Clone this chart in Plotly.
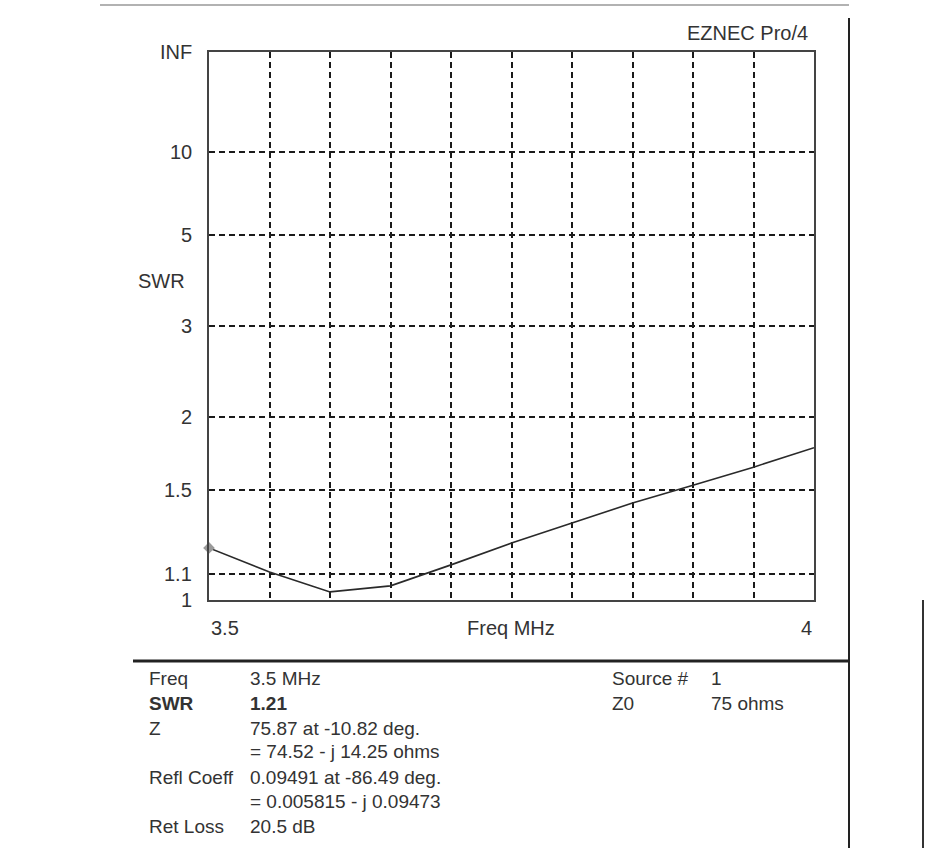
import plotly.graph_objects as go

# ---- data ----
freq_mhz = [3.50, 3.55, 3.60, 3.65, 3.70, 3.75, 3.80, 3.85, 3.90, 3.95, 4.00]
swr_vals = [1.21, 1.108, 1.03, 1.053, 1.137, 1.232, 1.327, 1.43, 1.53, 1.64, 1.77]
swr_ticks = [1, 1.1, 1.5, 2, 3, 5, 10]
swr_tick_labels = ["1", "1.1", "1.5", "2", "3", "5", "10"]
x_grid = [3.55, 3.60, 3.65, 3.70, 3.75, 3.80, 3.85, 3.90, 3.95]

info_left = [("Freq", "3.5 MHz", False), ("SWR", "1.21", True),
             ("Z", "75.87 at -10.82 deg.", False), ("", "= 74.52 - j 14.25 ohms", False),
             ("Refl Coeff", "0.09491 at -86.49 deg.", False), ("", "= 0.005815 - j 0.09473", False),
             ("Ret Loss", "20.5 dB", False)]
info_right = [("Source #", "1"), ("Z0", "75 ohms")]

# EZNEC SWR axis is linear in reflection coefficient
def rho(s):
    return (s - 1.0) / (s + 1.0)

W, H = 927, 848
L, R, T, B = 209, 814, 52, 600   # plot box in page pixels
FONT = "Liberation Sans, Arial, sans-serif"

def px(x):
    return (x - L) / (R - L)

def py(y):
    return (B - y) / (B - T)

fig = go.Figure()
fig.add_trace(go.Scatter(x=freq_mhz, y=[rho(s) for s in swr_vals], mode="lines",
                         line=dict(color="#2a2a2a", width=1.6), hoverinfo="skip"))
fig.add_trace(go.Scatter(x=[freq_mhz[0]], y=[rho(swr_vals[0])], mode="markers", cliponaxis=False,
                         marker=dict(symbol="diamond", size=9, color="#9a9a9a"), hoverinfo="skip"))

ann = []
for s, t in zip(swr_ticks, swr_tick_labels):
    ann.append(dict(x=px(194), y=rho(s), xref="paper", yref="y", text=t, showarrow=False,
                    xanchor="right", yanchor="middle", font=dict(size=20, color="#333")))
ann.append(dict(x=px(194), y=1.0, xref="paper", yref="y", text="INF", showarrow=False,
                xanchor="right", yanchor="middle", font=dict(size=20, color="#333")))
ann.append(dict(x=px(136), y=py(281), xref="paper", yref="paper", text="SWR", showarrow=False,
                xanchor="left", yanchor="middle", font=dict(size=20, color="#333")))
ann.append(dict(x=freq_mhz[0], y=py(628), xref="x", yref="paper", text="3.5", showarrow=False,
                xanchor="left", yanchor="middle", font=dict(size=20, color="#333")))
ann.append(dict(x=freq_mhz[-1], y=py(628), xref="x", yref="paper", text="4", showarrow=False,
                xanchor="right", yanchor="middle", font=dict(size=20, color="#333")))
ann.append(dict(x=px(511), y=py(628), xref="paper", yref="paper", text="Freq MHz", showarrow=False,
                xanchor="center", yanchor="middle", font=dict(size=20, color="#333")))
ann.append(dict(x=px(810), y=py(33), xref="paper", yref="paper", text="EZNEC Pro/4", showarrow=False,
                xanchor="right", yanchor="middle", font=dict(size=20, color="#333")))

row_y = [678, 703, 728, 752, 777, 801, 826]
for (lab, val, bold), yy in zip(info_left, row_y):
    for xx, txt in ((147, lab), (248, val)):
        if txt:
            ann.append(dict(x=px(xx), y=py(yy), xref="paper", yref="paper",
                            text=f"<b>{txt}</b>" if bold else txt, showarrow=False,
                            xanchor="left", yanchor="middle", font=dict(size=19, color="#333")))
for (lab, val), yy in zip(info_right, row_y[:2]):
    ann.append(dict(x=px(610), y=py(yy), xref="paper", yref="paper", text=lab, showarrow=False,
                    xanchor="left", yanchor="middle", font=dict(size=19, color="#333")))
    ann.append(dict(x=px(709), y=py(yy), xref="paper", yref="paper", text=val, showarrow=False,
                    xanchor="left", yanchor="middle", font=dict(size=19, color="#333")))

shapes = [
    dict(type="line", xref="paper", yref="paper", x0=px(100), x1=px(849), y0=py(5), y1=py(5),
         line=dict(color="#999", width=1.5)),
    dict(type="line", xref="paper", yref="paper", x0=px(849), x1=px(849), y0=py(18), y1=py(848),
         line=dict(color="#222", width=2)),
    dict(type="line", xref="paper", yref="paper", x0=px(133), x1=px(849), y0=py(661), y1=py(661),
         line=dict(color="#222", width=3)),
    dict(type="line", xref="paper", yref="paper", x0=px(923), x1=px(923), y0=py(600), y1=py(848),
         line=dict(color="#333", width=2)),
]

fig.update_layout(
    width=W, height=H, margin=dict(l=L, r=W - R, t=T, b=H - B),
    paper_bgcolor="white", plot_bgcolor="white", showlegend=False,
    font=dict(family=FONT, color="#333"),
    annotations=ann, shapes=shapes,
    xaxis=dict(range=[freq_mhz[0], freq_mhz[-1]], tickvals=x_grid, showticklabels=False, ticks="",
               showgrid=True, gridcolor="#1a1a1a", gridwidth=1.5, griddash="6px,4px", zeroline=False,
               showline=True, mirror=True, linecolor="#444", linewidth=2),
    yaxis=dict(range=[0, 1], tickvals=[rho(s) for s in swr_ticks[1:]], showticklabels=False, ticks="",
               showgrid=True, gridcolor="#1a1a1a", gridwidth=1.5, griddash="6px,4px", zeroline=False,
               showline=True, mirror=True, linecolor="#444", linewidth=2),
)
fig.write_html("out.html", config={"displayModeBar": False},
               post_script="document.body.style.margin='0';")
